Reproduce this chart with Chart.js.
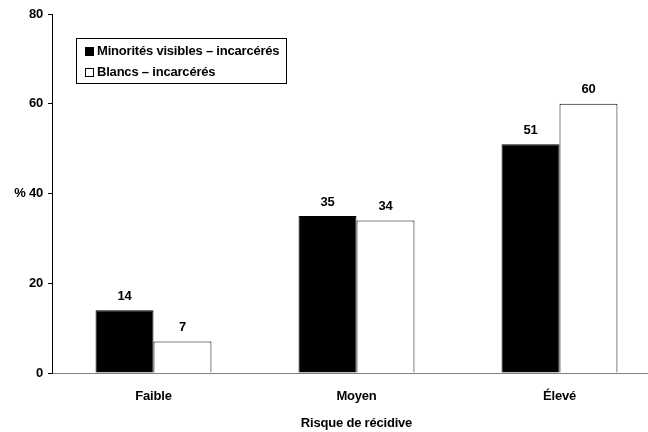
<!DOCTYPE html>
<html>
<head>
<meta charset="utf-8">
<script src="https://cdn.jsdelivr.net/npm/chart.js@4"></script>
<style>
  html, body { margin: 0; padding: 0; background: #fff; overflow: hidden; }
  #wrap { position: relative; width: 662px; height: 432px; }
</style>
</head>
<body>
<div id="wrap"><canvas id="c"></canvas></div>
<script>
// Risk of reoffending by group (percent)
const categories = ['Faible', 'Moyen', 'Élevé'];
const seriesNames = ['Minorités visibles – incarcérés', 'Blancs – incarcérés'];
const minoritesValues = [14, 35, 51];
const blancsValues = [7, 34, 60];
const yTickLabels = ['0', '20', '% 40', '60', '80'];
const xTitle = 'Risque de récidive';

const FONT = '"Liberation Sans", Arial, sans-serif';
const SIZE = 13;

// Slightly tighter glyph spacing for all canvas text
const tightText = {
  id: 'tightText',
  beforeDraw(chart) { chart.ctx.letterSpacing = '-0.2px'; }
};

// Value labels above each bar
const valueLabels = {
  id: 'valueLabels',
  afterDatasetsDraw(chart) {
    const ctx = chart.ctx;
    ctx.save();
    ctx.font = 'bold ' + SIZE + 'px ' + FONT;
    ctx.fillStyle = '#000';
    ctx.textAlign = 'center';
    ctx.textBaseline = 'middle';
    chart.data.datasets.forEach((ds, i) => {
      chart.getDatasetMeta(i).data.forEach((bar, j) => {
        ctx.fillText(String(ds.data[j]), bar.x, bar.y - 14);
      });
    });
    ctx.restore();
  }
};

// Boxed legend inside the plot area
const boxedLegend = {
  id: 'boxedLegend',
  afterDraw(chart) {
    const ctx = chart.ctx;
    const x0 = 76.5, y0 = 38.5, w = 210, h = 45;
    ctx.save();
    ctx.strokeStyle = '#000';
    ctx.lineWidth = 1;
    ctx.strokeRect(x0, y0, w, h);
    ctx.font = 'bold ' + SIZE + 'px ' + FONT;
    ctx.textAlign = 'left';
    ctx.textBaseline = 'middle';
    chart.data.datasets.forEach((ds, i) => {
      const cy = 51.5 + i * 21;
      ctx.fillStyle = ds.backgroundColor;
      ctx.fillRect(85.5, cy - 4, 8, 8);
      ctx.strokeStyle = '#000';
      ctx.strokeRect(85.5, cy - 4, 8, 8);
      ctx.fillStyle = '#000';
      ctx.fillText(ds.label, 97, cy);
    });
    ctx.restore();
  }
};

new Chart(document.getElementById('c'), {
  type: 'bar',
  data: {
    labels: categories,
    datasets: [
      { label: seriesNames[0], data: minoritesValues, backgroundColor: '#000000', borderColor: '#000000', borderWidth: 1 },
      { label: seriesNames[1], data: blancsValues, backgroundColor: '#ffffff', borderColor: '#000000', borderWidth: 1 }
    ]
  },
  options: {
    responsive: true,
    maintainAspectRatio: false,
    animation: false,
    devicePixelRatio: 1,
    layout: { padding: { top: 14, left: 0, right: 1, bottom: 0 } },
    datasets: { bar: { categoryPercentage: 0.571, barPercentage: 1.0 } },
    plugins: {
      legend: { display: false },
      tooltip: { enabled: false }
    },
    scales: {
      x: {
        grid: { display: false },
        border: { display: true, color: '#808080', width: 1 },
        ticks: { color: '#000', font: { family: FONT, size: SIZE, weight: 'bold' }, padding: 8, maxRotation: 0 },
        title: { display: true, text: xTitle, color: '#000', font: { family: FONT, size: SIZE, weight: 'bold' }, padding: { top: 0, bottom: 1 } },
        afterFit(scale) { scale.height = 59; }
      },
      y: {
        min: 0,
        max: 80,
        grid: { display: true, drawOnChartArea: false, drawTicks: true, tickLength: 4, color: '#000' },
        border: { display: true, color: '#000', width: 1 },
        ticks: {
          stepSize: 20,
          padding: 5,
          color: '#000',
          font: { family: FONT, size: SIZE, weight: 'bold' },
          callback: (value, index) => yTickLabels[index]
        },
        afterFit(scale) { scale.width = 52; }
      }
    }
  },
  plugins: [tightText, valueLabels, boxedLegend]
});
</script>
</body>
</html>
